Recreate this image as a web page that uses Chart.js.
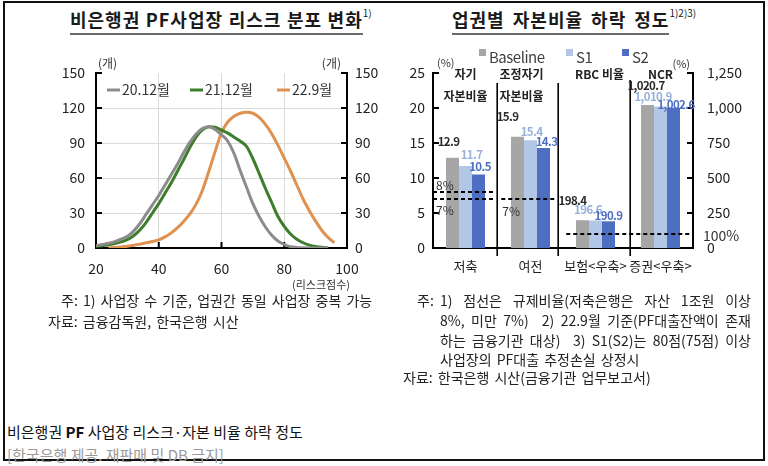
<!DOCTYPE html>
<html><head><meta charset="utf-8">
<script src="https://cdn.jsdelivr.net/npm/chart.js"></script>
<style>
html,body{margin:0;padding:0;background:#fff;}
body{width:768px;height:466px;position:relative;overflow:hidden;font-family:"Noto Sans CJK KR","Noto Sans",sans-serif;color:#1a1a1a;}
.frame{position:absolute;left:3px;top:1px;width:758px;height:456px;border:2px solid #111;}
.t{position:absolute;white-space:nowrap;line-height:1;}
.title{font-size:18px;font-weight:bold;top:10px;letter-spacing:1px;}
.title .u{border-bottom:2px solid #6a6a6a;padding-bottom:1px;}
.title .sup{font-size:10px;font-weight:normal;letter-spacing:0;vertical-align:top;position:relative;top:-2px;margin-left:0;}
.fn{font-size:14px;color:#222;}
.just{text-align:justify;text-align-last:justify;width:311px;}
canvas{position:absolute;top:0;}
</style>
</head><body>
<div class="frame"></div>
<div class="t title" style="left:70px;word-spacing:0.5px;"><span class="u">비은행권 PF사업장 리스크 분포 변화</span><span class="sup">1)</span></div>
<div class="t title" style="left:452px;word-spacing:3px;"><span class="u">업권별 자본비율 하락 정도</span><span class="sup">1)2)3)</span></div>

<canvas id="left" width="400" height="300" style="left:0;"></canvas>
<canvas id="right" width="368" height="300" style="left:400px;"></canvas>

<div class="t fn" style="left:61px;top:293px;word-spacing:2px;">주: 1) 사업장 수 기준, 업권간 동일 사업장 중복 가능</div>
<div class="t fn" style="left:48px;top:314px;word-spacing:2px;">자료: 금융감독원, 한국은행 시산</div>

<div class="t fn" style="left:417px;top:293px;">주:</div>
<div class="t fn just" style="left:440px;top:293px;">1) 점선은 규제비율(저축은행은 자산 1조원 이상</div>
<div class="t fn just" style="left:440px;top:313px;">8%, 미만 7%)&nbsp; 2) 22.9월 기준(PF대출잔액이 존재</div>
<div class="t fn just" style="left:440px;top:333px;">하는 금융기관 대상)&nbsp; 3) S1(S2)는 80점(75점) 이상</div>
<div class="t fn" style="left:440px;top:352px;word-spacing:2px;">사업장의 PF대출 추정손실 상정시</div>
<div class="t fn" style="left:403px;top:370px;word-spacing:2px;">자료: 한국은행 시산(금융기관 업무보고서)</div>

<div class="t" style="left:7px;top:424px;font-size:15px;color:#111;">비은행권 <b>PF</b> 사업장 리스크·자본 비율 하락 정도</div>
<div class="t" style="left:7px;top:447px;font-size:15px;color:#9a9a9a;">[한국은행 제공. 재판매 및 DB 금지]</div>

<script>
// ---------------- data: left chart ----------------
const riskScores = [20,22,24,26,28,30,32,34,36,38,40,42,44,46,48,50,52,54,56,58,60,62,64,66,68,70,72,74,76,78,80,82,84,86,88,90,92,94,96];
const count2012 = [2,3,4,5.5,7.5,10,14.5,21,29,37,45,54,63,72,82,91,98,102.5,104,101.5,97,91.5,81,66,52,38,27,18,11,6,3,1.2,0.5,0.2,0,0,0,0,null];
const count2112 = [1.5,2,2.8,3.8,5.2,7.2,10.5,15.5,22,30,38,47,56,66,76,86.5,95.5,101.5,104,103.5,101,98.5,95,91.5,87,76.5,64,51,39,27,18.5,12,7.5,4.5,2.5,1.3,0.6,0.2,null];
const count2209 = [null,null,0,0.4,0.9,1.5,2.3,3.3,4.5,5.5,7,9.5,13,17.5,23,29.5,38,50,66,83,99,108,113,115.5,116.3,115.5,112,106,98,88,77,66,54,42,32,23,15,9,4.5];
const periodLabels = ['20.12월','21.12월','22.9월'];
const periodColors = ['#8c8c8c','#3d7d2c','#e0914f'];

// ---------------- data: right chart ----------------
const sectors = ['저축','여전','보험<우축>','증권<우축>'];
const baseline = [12.9, 15.9, 198.4, 1020.7];
const s1 = [11.7, 15.4, 196.6, 1010.9];
const s2 = [10.5, 14.3, 190.9, 1002.6];
const onRightAxis = [false, false, true, true];
const seriesNames = ['Baseline','S1','S2'];
const seriesColors = ['#a6a6a6','#b2c6e6','#4e6ec1'];
const labelColors = ['#2a2a2a','#97b0da','#4e6ec1'];
const regLines = [ // regulatory ratios (dashed)
  {axis:'y', value:8, from:-0.5, to:0.45, text:'8%', tx:3, ty:-7},
  {axis:'y', value:7, from:-0.5, to:0.45, text:'7%', tx:3, ty:11},
  {axis:'y', value:7, from:0.55, to:1.4, text:'7%', tx:1, ty:12},
  {axis:'y2', value:100, from:1.55, to:3.5, text:'100%', tx:10, ty:2, outside:true}
];
const groupHeaders = [
  {cat:0, dx:0, lines:['자기','자본비율']},
  {cat:1, dx:-9, lines:['조정자기','자본비율']},
  {cat:2, dx:4, lines:['RBC 비율']},
  {cat:3, dx:0, lines:['NCR']}
];
const separators = [0.48, 1.42, 2.53];
const separatorTopGap = [10, 10, 7];
const labelOffsets = [ // [series][sector] : label centre relative to bar top centre
  [[-4,-16],[-10,-20],[-10,-20],[-1.5,-19]],
  [[6,-11],[1,-8.5],[-7.5,-10.5],[-7.5,-9.5]],
  [[1.5,-8],[3,-6],[0,-6],[2.5,-3]]
];

const FONT = '"Noto Sans CJK KR","Noto Sans",sans-serif';
Chart.defaults.font.family = FONT;
Chart.defaults.color = '#222';

// ---------------- left chart ----------------
const leftDecor = {
  id:'leftDecor',
  beforeDatasetsDraw(chart){
    const {ctx, chartArea:a, scales:{x,y}} = chart;
    ctx.save();
    ctx.strokeStyle='#000'; ctx.lineWidth=2; ctx.lineCap='square';
    ctx.beginPath();
    ctx.moveTo(a.left,a.top); ctx.lineTo(a.left,a.bottom); ctx.lineTo(a.right,a.bottom); ctx.lineTo(a.right,a.top);
    y.ticks.forEach(t=>{ if(t.value===0) return; const py=y.getPixelForValue(t.value);
      ctx.moveTo(a.left,py); ctx.lineTo(a.left+5,py); ctx.moveTo(a.right,py); ctx.lineTo(a.right-5,py); });
    x.ticks.forEach(t=>{ if(t.value===x.min||t.value===x.max) return; const px=x.getPixelForValue(t.value);
      ctx.moveTo(px,a.bottom); ctx.lineTo(px,a.bottom-5); });
    ctx.stroke();
    ctx.restore();
  },
  afterDraw(chart){
    const {ctx, chartArea:a} = chart;
    ctx.save();
    ctx.fillStyle='#333'; ctx.font='12px '+FONT; ctx.textBaseline='middle';
    ctx.textAlign='left'; ctx.fillText('(개)', a.left+2, a.top-10);
    ctx.textAlign='right'; ctx.fillText('(개)', a.right-6, a.top-10);
    ctx.font='11px '+FONT; ctx.fillText('(리스크점수)', a.right+3, a.bottom+37);
    // legend
    const legendX = [107,190,277];
    ctx.font='14px '+FONT; ctx.textAlign='left';
    chart.data.datasets.forEach((ds,i)=>{
      const lx=legendX[i], ly=a.top+17;
      ctx.strokeStyle=ds.borderColor; ctx.lineWidth=3; ctx.lineCap='butt';
      ctx.beginPath(); ctx.moveTo(lx,ly); ctx.lineTo(lx+13,ly); ctx.stroke();
      ctx.fillStyle='#333'; ctx.fillText(ds.label, lx+15, ly);
    });
    ctx.restore();
  }
};

const leftSeries = [count2012, count2112, count2209];
new Chart(document.getElementById('left'), {
  type:'line',
  data:{ datasets: leftSeries.map((s,k)=>({
    label: periodLabels[k],
    data: riskScores.map((xv,i)=>({x:xv, y:s[i]})),
    borderColor: periodColors[k], backgroundColor: periodColors[k],
    borderWidth:3, pointRadius:0, cubicInterpolationMode:'monotone', yAxisID:'y'
  }))},
  options:{
    responsive:false, animation:false, devicePixelRatio:1,
    layout:{padding:{left:56,right:13,top:73,bottom:22}},
    plugins:{legend:{display:false}, tooltip:{enabled:false}},
    scales:{
      x:{type:'linear', min:20, max:100,
         ticks:{stepSize:20, padding:12, font:{size:14}, color:'#222'},
         grid:{drawTicks:false, lineWidth:1, color:c=>(c.tick && (c.tick.value===20||c.tick.value===100))?'rgba(0,0,0,0)':'#dadada'},
         border:{display:false}, afterFit:s=>{s.height=30;}},
      y:{min:0, max:150, ticks:{stepSize:30, padding:11, font:{size:14}, color:'#222'},
         grid:{drawTicks:false, lineWidth:1, color:c=>(c.tick && (c.tick.value===0||c.tick.value===150))?'rgba(0,0,0,0)':'#dadada'},
         border:{display:false}, afterFit:s=>{s.width=40;}},
      y2:{position:'right', min:0, max:150, ticks:{stepSize:30, padding:8, font:{size:14}, color:'#222'},
         grid:{display:false, drawTicks:false}, border:{display:false}, afterFit:s=>{s.width=40;}}
    }
  },
  plugins:[leftDecor]
});

// ---------------- right chart ----------------
function fmt(v){ return v.toLocaleString('en-US',{minimumFractionDigits:1, maximumFractionDigits:1}); }

const rightDecor = {
  id:'rightDecor',
  beforeDatasetsDraw(chart){
    const {ctx, chartArea:a, scales:{x,y,y2}} = chart;
    ctx.save();
    ctx.strokeStyle='#000'; ctx.lineWidth=2; ctx.lineCap='square';
    ctx.beginPath();
    ctx.moveTo(a.left,a.top); ctx.lineTo(a.left,a.bottom); ctx.lineTo(a.right,a.bottom); ctx.lineTo(a.right,a.top);
    y.ticks.forEach(t=>{ if(t.value===0) return; const py=y.getPixelForValue(t.value); ctx.moveTo(a.left,py); ctx.lineTo(a.left+5,py); });
    y2.ticks.forEach(t=>{ if(t.value===0) return; const py=y2.getPixelForValue(t.value); ctx.moveTo(a.right,py); ctx.lineTo(a.right-5,py); });
    ctx.stroke();
    ctx.lineWidth=1.6; ctx.lineCap='butt';
    ctx.beginPath();
    separators.forEach((p,i)=>{ const px=Math.round(x.getPixelForValue(p))+0.2; ctx.moveTo(px,a.top+separatorTopGap[i]); ctx.lineTo(px,a.bottom+8); });
    ctx.stroke();
    ctx.restore();
  },
  afterDatasetsDraw(chart){
    const {ctx, chartArea:a, scales} = chart;
    const x = scales.x;
    ctx.save();
    ctx.strokeStyle='#000'; ctx.lineWidth=1.8; ctx.setLineDash([4,3]);
    regLines.forEach(r=>{
      const py=scales[r.axis].getPixelForValue(r.value);
      ctx.beginPath(); ctx.moveTo(x.getPixelForValue(r.from),py); ctx.lineTo(x.getPixelForValue(r.to),py); ctx.stroke();
    });
    ctx.setLineDash([]);
    ctx.textBaseline='middle'; ctx.textAlign='left';
    regLines.forEach(r=>{
      const py=scales[r.axis].getPixelForValue(r.value);
      ctx.font=(r.outside?'14px ':'12px ')+FONT; ctx.fillStyle='#333';
      const px = r.outside ? a.right + r.tx : x.getPixelForValue(r.from) + r.tx;
      ctx.fillText(r.text, px, py + r.ty);
    });
    ctx.font='bold 11.5px '+FONT; ctx.textAlign='center';
    if ('letterSpacing' in ctx) ctx.letterSpacing='-0.6px';
    chart.data.datasets.forEach((ds,di)=>{
      const meta=chart.getDatasetMeta(di);
      meta.data.forEach((bar,i)=>{
        const v=ds.data[i]; if(v===null||v===undefined) return;
        const [dx,dy]=labelOffsets[ds.seriesIndex][i];
        ctx.fillStyle=labelColors[ds.seriesIndex];
        ctx.fillText(fmt(v), bar.x+dx, bar.y+dy);
      });
    });
    ctx.restore();
  },
  afterDraw(chart){
    const {ctx, chartArea:a, scales:{x}} = chart;
    ctx.save();
    ctx.textBaseline='middle';
    ctx.font='11px '+FONT; ctx.fillStyle='#333';
    ctx.textAlign='left'; ctx.fillText('(%)', a.left+4, a.top-10);
    ctx.textAlign='right'; ctx.fillText('(%)', a.right-3, a.top-9);
    ctx.font='bold 12px '+FONT; ctx.fillStyle='#222'; ctx.textAlign='center';
    groupHeaders.forEach(h=>{
      const cx=x.getPixelForValue(h.cat)+h.dx;
      h.lines.forEach((ln,j)=>ctx.fillText(ln, cx, a.top+1+j*22));
    });
    const legendPos=[[79,49],[166,49],[222,49]];
    ctx.font='15px '+FONT; ctx.textAlign='left';
    if ('letterSpacing' in ctx) ctx.letterSpacing='-0.5px';
    seriesNames.forEach((n,k)=>{
      const [lx,ly]=legendPos[k];
      ctx.fillStyle=seriesColors[k]; ctx.fillRect(lx,ly,7,7);
      ctx.fillStyle='#404040'; ctx.fillText(n, lx+10, ly+8);
    });
    ctx.restore();
  }
};

const seriesValues=[baseline,s1,s2];
const barDatasets=[];
[false,true].forEach(right=>{
  seriesValues.forEach((vals,k)=>{
    barDatasets.push({
      label: seriesNames[k], seriesIndex:k,
      data: vals.map((v,i)=> onRightAxis[i]===right ? v : null),
      backgroundColor: seriesColors[k], borderWidth:0,
      yAxisID: right ? 'y2' : 'y',
      categoryPercentage:0.6, barPercentage:1, skipNull:true
    });
  });
});

new Chart(document.getElementById('right'), {
  type:'bar',
  data:{labels:sectors, datasets:barDatasets},
  options:{
    responsive:false, animation:false, devicePixelRatio:1,
    layout:{padding:{left:5,right:25,top:73,bottom:22}},
    plugins:{legend:{display:false}, tooltip:{enabled:false}},
    scales:{
      x:{ticks:{autoSkip:false, maxRotation:0, padding:10, font:{size:13}, color:'#222'},
         grid:{display:false, drawTicks:false}, border:{display:false}, afterFit:s=>{s.height=30;}},
      y:{min:0, max:25, ticks:{stepSize:5, padding:8, font:{size:14}, color:'#222'},
         grid:{display:false, drawTicks:false}, border:{display:false}, afterFit:s=>{s.width=28;}},
      y2:{position:'right', min:0, max:1250, ticks:{stepSize:250, padding:14, font:{size:14}, color:'#222'},
         grid:{display:false, drawTicks:false}, border:{display:false}, afterFit:s=>{s.width=50;}}
    }
  },
  plugins:[rightDecor]
});
</script>
</body></html>
